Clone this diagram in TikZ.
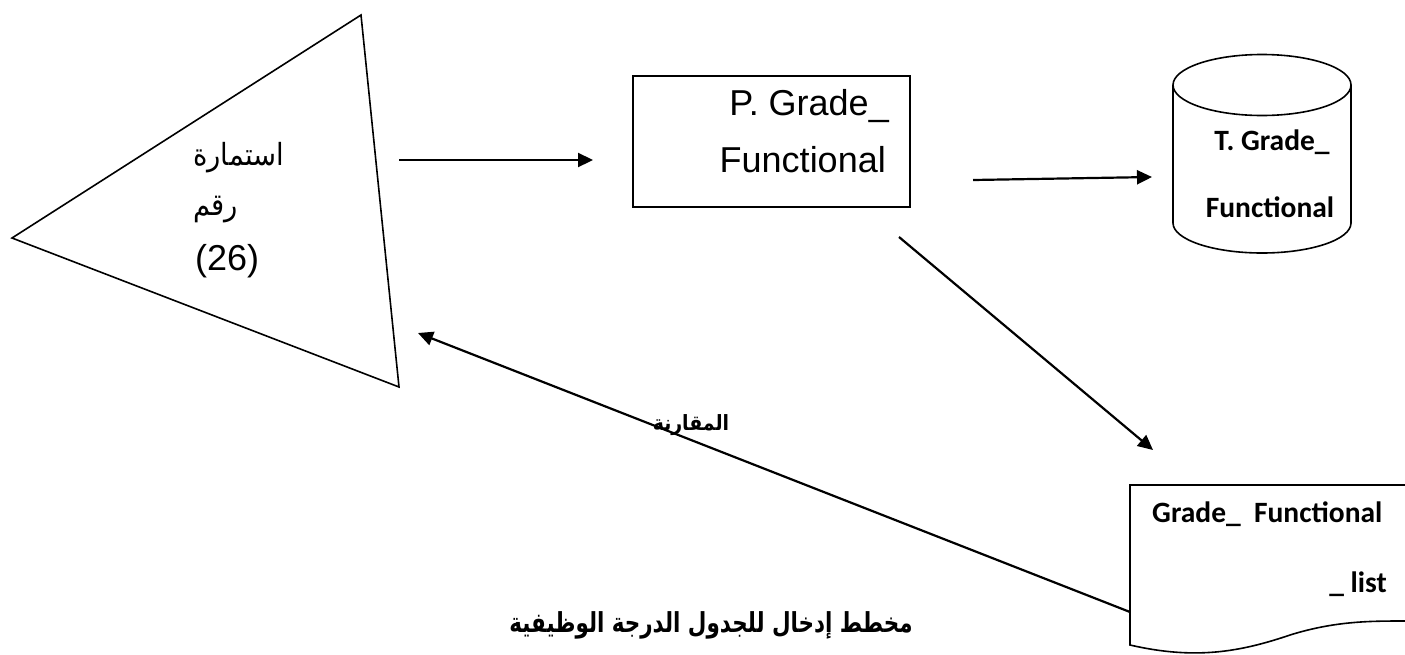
\documentclass[tikz,border=0pt]{standalone}
\usepackage{fontspec}
\usetikzlibrary{arrows.meta}
\setmainfont{Liberation Sans}
\newfontfamily\arabicfont[Script=Arabic, FakeStretch=0.9]{DejaVu Sans}
\newfontfamily\arabictitle[Script=Arabic, FakeStretch=0.78]{DejaVu Sans}
\newfontfamily\calfont{Carlito}
\TeXXeTstate=1
\begin{document}
\begin{tikzpicture}[x=1pt,y=-1pt,
  shp/.style={line width=1.6pt},
  conn/.style={line width=2.2pt,-{Triangle[length=15pt,width=14pt]}},
  big/.style={font=\fontsize{36}{42}\selectfont, inner sep=0pt},
  arbig/.style={font=\arabicfont\fontsize{30.5}{36}\selectfont, inner sep=0pt},
  calb/.style={font=\calfont\bfseries\fontsize{29.5}{35}\selectfont, inner sep=0pt}]
\useasboundingbox (0,0) rectangle (1405,654);
% triangle (form)
\coordinate (tL) at (12,238);
\coordinate (tT) at (361,15);
\coordinate (tB) at (399,387);
\draw[shp, line join=miter] (tL) -- (tT) -- (tB) -- cycle;
\node[arbig, anchor=base west] (f1) at (193,165) {\beginR استمارة\endR};
\node[arbig, anchor=base west] (f2) at (193,215) {\beginR رقم\endR};
\node[big, anchor=base west] (f3) at (195,270) {(26)};
% process box
\node[shp, draw, minimum width=277pt, minimum height=131pt, inner sep=0pt] (pbox) at (771.5,141.5) {};
\node[big, anchor=base east] (p1) at (889,115) {P. Grade\_};
\node[big, anchor=base east] (p2) at (886,172) {Functional};
% cylinder (data store)
\draw[shp] (1173,85) -- (1173,223) arc[start angle=180,end angle=360,x radius=89pt,y radius=30pt] -- (1351,85);
\draw[shp] (1262,85) ellipse [x radius=89pt, y radius=30.5pt];
\node[calb, anchor=base] (c1) at (1272,150) {T. Grade\_};
\node[calb, anchor=base] (c2) at (1270,217) {Functional};
% document (list)
\draw[shp] (1405,485) -- (1130,485) -- (1130,645) .. controls (1195,660) and (1240,652) .. (1290,635) .. controls (1335,621) and (1370,621) .. (1405,621);
\node[calb, anchor=base west] (d1) at (1152,522) {Grade\_\ \ Functional};
\node[calb, anchor=base east] (d2) at (1387,592) {\_ list};
% connector end points
\coordinate (a1s) at (399,160);
\coordinate (a1e) at (593,160);
\coordinate (a2s) at (973,180);
\coordinate (a2e) at (1152,177);
\coordinate (a3s) at (899,237);
\coordinate (a3e) at (1153,450);
\coordinate (a4s) at (1130,612);
\coordinate (a4e) at (418,333);
\draw[conn] (a1s) -- (a1e);
\draw[conn] (a2s) -- (a2e);
\draw[conn] (a3s) -- (a3e);
\draw[conn] (a4s) -- (a4e);
% labels
\node[font=\arabicfont\bfseries\fontsize{21}{25}\selectfont, inner sep=0pt, anchor=base] (lbl) at (691,430) {\beginR المقارنة\endR};
\node[font=\arabictitle\bfseries\fontsize{27.5}{32}\selectfont, inner sep=0pt, anchor=base] (title) at (711,632) {\beginR مخطط إدخال للجدول الدرجة الوظيفية\endR};
\end{tikzpicture}
\end{document}
